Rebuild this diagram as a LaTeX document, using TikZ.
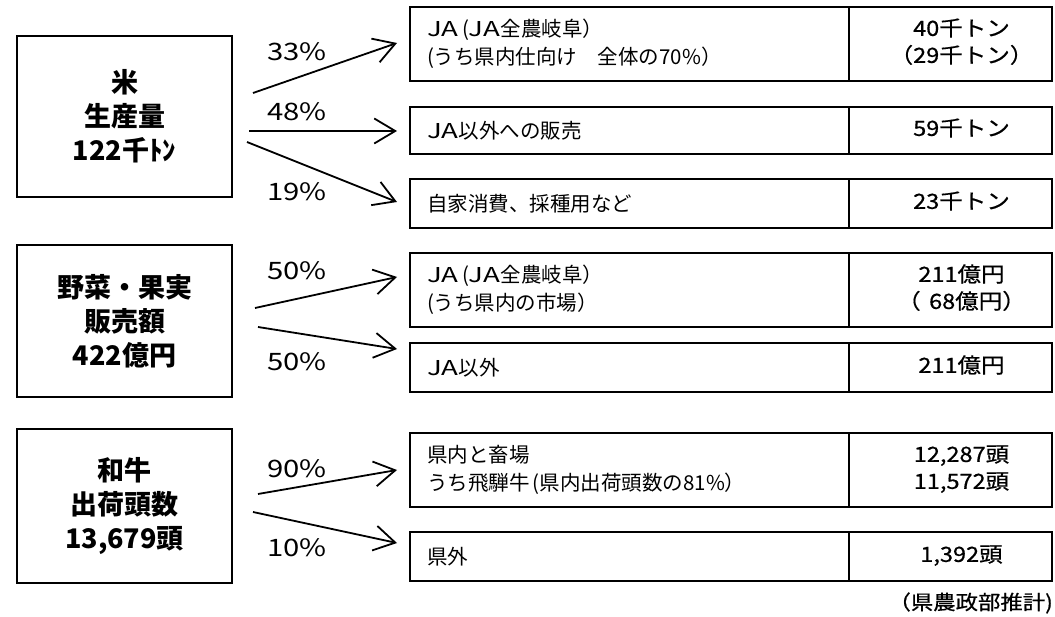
\documentclass[tikz,border=0pt]{standalone}
\usepackage{fontspec}
\setmainfont{Noto Sans CJK JP}
\newfontfamily\valfont{Noto Sans CJK JP}[FakeBold=0.6,FakeStretch=1.12]
\newfontfamily\pctfont{Noto Sans CJK JP}[FakeStretch=1.22]
\newfontfamily\widefont{Noto Sans CJK JP}[FakeStretch=1.35]
\usetikzlibrary{arrows.meta}
\newcommand\valtxt[1]{\hspace*{22pt}\begin{tabular}{@{}c@{}}#1\end{tabular}}
\newcommand\JAw{{\widefont JA}}
\begin{document}
\begin{tikzpicture}[x=1pt,y=-1pt,
  src/.style={draw, line width=1.8pt, minimum width=215pt, align=center, inner sep=0pt,
    font=\bfseries\fontsize{27}{34}\selectfont},
  desc/.style={draw, line width=1.8pt, minimum width=439pt, text width=405pt, align=left,
    inner xsep=17pt, inner ysep=0pt, font=\fontsize{20.5}{28}\selectfont},
  val/.style={draw, line width=1.8pt, minimum width=203pt, align=center, inner sep=0pt,
    font=\valfont\fontsize{21}{27}\selectfont},
  pct/.style={inner sep=0pt, font=\pctfont\fontsize{24}{24}\selectfont},
  flow/.style={line width=1.8pt, -{Straight Barb[length=21pt,width=25pt]}},
]
\useasboundingbox (0,0) rectangle (1055,617);
\fill[white] (0,0) rectangle (1055,617);

% source boxes
\node[src, minimum height=161pt] (rice) at (124.5,116.5) {米\\生産量\\122千ﾄﾝ};
\node[src, minimum height=152pt] (veg)  at (124.5,321) {野菜・果実\\販売額\\422億円};
\node[src, minimum height=154pt] (beef) at (124.5,506) {和牛\\出荷頭数\\13,679頭};

% destination rows
\node[desc, minimum height=74pt] (r1d) at (629.5,44) {\JAw\,(\JAw 全農岐阜）\\(うち県内仕向け　全体の70\%）};
\node[val,  minimum height=74pt] (r1v) at (950.5,44) {\valtxt{40千トン\\（29千トン）}};
\node[desc, minimum height=47pt] (r2d) at (629.5,130.5) {\JAw 以外への販売};
\node[val,  minimum height=47pt] (r2v) at (950.5,130.5) {\valtxt{59千トン}};
\node[desc, minimum height=49pt] (r3d) at (629.5,203.5) {自家消費、採種用など};
\node[val,  minimum height=49pt] (r3v) at (950.5,203.5) {\valtxt{23千トン}};

\node[desc, minimum height=74pt] (r4d) at (629.5,290) {\JAw\,(\JAw 全農岐阜）\\(うち県内の市場）};
\node[val,  minimum height=74pt] (r4v) at (950.5,290) {\valtxt{211億円\\（\hspace{0.4em}68億円）}};
\node[desc, minimum height=49pt] (r5d) at (629.5,367.5) {\JAw 以外};
\node[val,  minimum height=49pt] (r5v) at (950.5,367.5) {\valtxt{211億円}};

\node[desc, minimum height=74pt] (r6d) at (629.5,470) {県内と畜場\\うち飛騨牛\,(県内出荷頭数の81\%）};
\node[val,  minimum height=74pt] (r6v) at (950.5,470) {\valtxt{12,287頭\\11,572頭}};
\node[desc, minimum height=49pt] (r7d) at (629.5,556.5) {県外};
\node[val,  minimum height=49pt] (r7v) at (950.5,556.5) {\valtxt{1,392頭}};

\node[anchor=east, inner sep=0pt, font=\valfont\fontsize{20}{20}\selectfont] (note) at (1053,603) {（県農政部推計)};

% connector end points
\coordinate (s1) at (253,93);  \coordinate (e1) at (397,43);
\coordinate (s2) at (249,131); \coordinate (e2) at (397,131);
\coordinate (s3) at (247,142); \coordinate (e3) at (397,202);
\coordinate (s4) at (255,308); \coordinate (e4) at (397,277);
\coordinate (s5) at (258,327); \coordinate (e5) at (397,349);
\coordinate (s6) at (258,494); \coordinate (e6) at (397,470);
\coordinate (s7) at (253,512); \coordinate (e7) at (397,543);

\draw[flow] (s1) -- (e1);
\draw[flow] (s2) -- (e2);
\draw[flow] (s3) -- (e3);
\draw[flow] (s4) -- (e4);
\draw[flow] (s5) -- (e5);
\draw[flow] (s6) -- (e6);
\draw[flow] (s7) -- (e7);

% percentages
\node[pct] (p1) at (297,52)  {33\%};
\node[pct] (p2) at (297,112) {48\%};
\node[pct] (p3) at (297,192) {19\%};
\node[pct] (p4) at (297,271) {50\%};
\node[pct] (p5) at (297,362) {50\%};
\node[pct] (p6) at (297,469) {90\%};
\node[pct] (p7) at (297,548) {10\%};
\end{tikzpicture}
\end{document}
